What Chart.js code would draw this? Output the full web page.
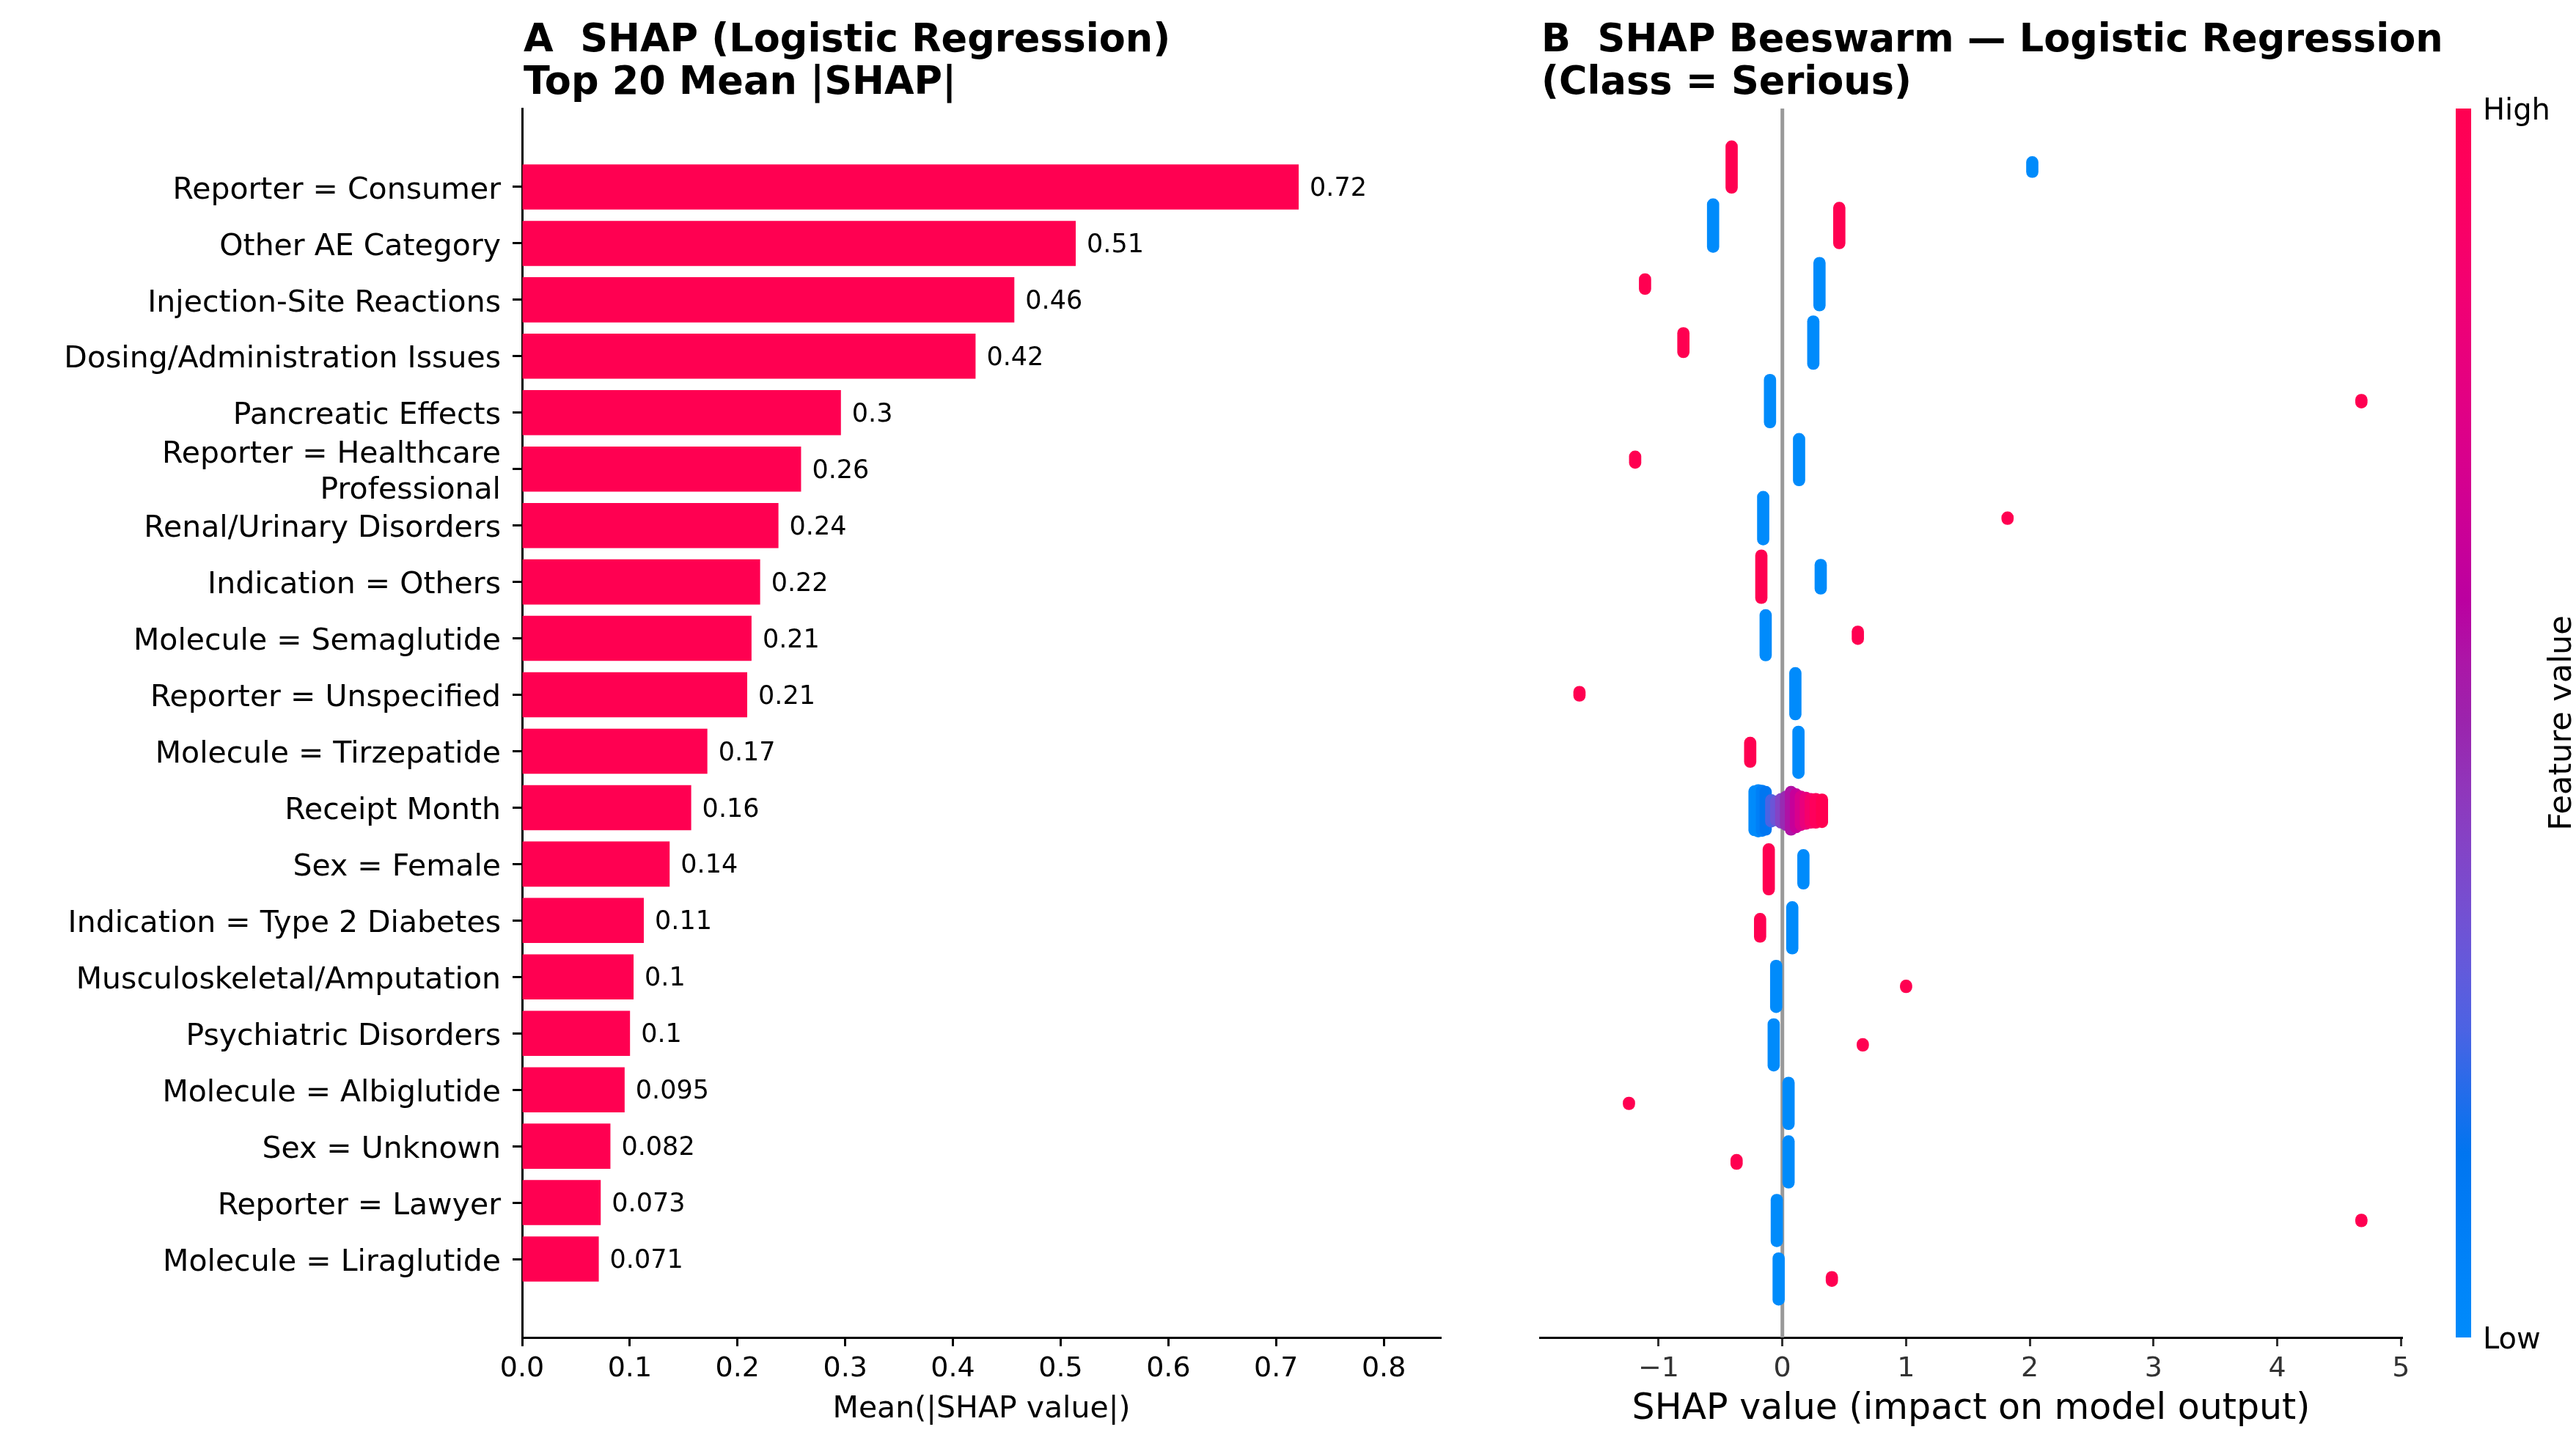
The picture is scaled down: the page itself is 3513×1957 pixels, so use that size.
<!DOCTYPE html>
<html>
<head>
<meta charset="utf-8">
<title>SHAP - Logistic Regression</title>
<script src="https://cdn.jsdelivr.net/npm/chart.js@4.4.1/dist/chart.umd.min.js"></script>
<style>
  html, body { margin: 0; padding: 0; background: #fff; }
  body { width: 3513px; height: 1957px; position: relative; overflow: hidden; }
  #barChart { position: absolute; left: 0; top: 0; }
  #swarmChart { position: absolute; left: 2000px; top: 0; }
</style>
</head>
<body>
<canvas id="barChart" width="2000" height="1957"></canvas>
<canvas id="swarmChart" width="1513" height="1957"></canvas>
<script>
// features, top to bottom (same order in both panels)
const features = [
  "Reporter = Consumer", "Other AE Category", "Injection-Site Reactions",
  "Dosing/Administration Issues", "Pancreatic Effects", "Reporter = Healthcare Professional",
  "Renal/Urinary Disorders", "Indication = Others", "Molecule = Semaglutide",
  "Reporter = Unspecified", "Molecule = Tirzepatide", "Receipt Month", "Sex = Female",
  "Indication = Type 2 Diabetes", "Musculoskeletal/Amputation", "Psychiatric Disorders",
  "Molecule = Albiglutide", "Sex = Unknown", "Reporter = Lawyer", "Molecule = Liraglutide"
];
const meanAbsShap = [0.721, 0.514, 0.457, 0.421, 0.296, 0.259, 0.238, 0.221, 0.213, 0.209,
  0.172, 0.157, 0.137, 0.113, 0.1035, 0.1002, 0.0952, 0.082, 0.073, 0.0712];

const meanTicks = [0, 0.1, 0.2, 0.3, 0.4, 0.5, 0.6, 0.7, 0.8];
const shapTicks = [-1, 0, 1, 2, 3, 4, 5];

// beeswarm clusters per row: SHAP value, feature value (0 low .. 1 high), half height in rows
const swarmShap = [
  [-0.41, 2.02], [-0.56, 0.46], [-1.11, 0.30], [-0.80, 0.25], [-0.10, 4.68],
  [-1.19, 0.135], [-0.155, 1.82], [-0.17, 0.31], [-0.135, 0.61], [-1.64, 0.105],
  [-0.26, 0.13],
  [-0.225, -0.195, -0.165, -0.135, -0.09, -0.05, -0.01, 0.03, 0.07, 0.11, 0.15, 0.19, 0.23, 0.27, 0.32],
  [-0.11, 0.17], [-0.18, 0.08], [-0.05, 1.00], [-0.07, 0.65], [-1.24, 0.05],
  [-0.37, 0.05], [-0.045, 4.68], [-0.03, 0.40]
];
const swarmFeature = [
  [1, 0], [0, 1], [1, 0], [1, 0], [0, 1],
  [1, 0], [0, 1], [1, 0], [0, 1], [1, 0],
  [1, 0],
  [0, 0, 0.08, 0.14, 0.25, 0.32, 0.4, 0.48, 0.56, 0.64, 0.72, 0.8, 0.88, 0.95, 1],
  [1, 0], [1, 0], [0, 1], [0, 1], [1, 0],
  [1, 0], [0, 1], [0, 1]
];
const swarmSpread = [
  [0.45, 0.18], [0.46, 0.40], [0.18, 0.46], [0.26, 0.46], [0.46, 0.12],
  [0.15, 0.45], [0.46, 0.11], [0.46, 0.30], [0.44, 0.16], [0.13, 0.45],
  [0.26, 0.45],
  [0.43, 0.45, 0.44, 0.42, 0.28, 0.26, 0.30, 0.34, 0.42, 0.38, 0.34, 0.32, 0.30, 0.30, 0.29],
  [0.44, 0.34], [0.25, 0.45], [0.45, 0.11], [0.45, 0.11], [0.11, 0.45],
  [0.13, 0.45], [0.45, 0.11], [0.45, 0.13]
];

const FONT = "'DejaVu Sans', sans-serif";
Chart.defaults.font.family = FONT;
Chart.defaults.color = "#000";

// shap red_blue colormap (LCH interpolation, blue -> dark purple -> red)
function redBlue(v) {
  const l = v < 0.5 ? 54 - 28 * v : 40 + 28 * (v - 0.5);
  const c = 70 + 20 * v;
  const h = 4.6588 + (0.35470565 + 2 * Math.PI - 4.6588) * v;
  const a = c * Math.cos(h), b = c * Math.sin(h);
  const fy = (l + 16) / 116, fx = fy + a / 500, fz = fy - b / 200;
  const finv = t => (t > 0.2068966 ? t * t * t : (t - 16 / 116) / 7.787);
  const X = 0.95047 * finv(fx), Y = finv(fy), Z = 1.08883 * finv(fz);
  const lin = [
    3.2406 * X - 1.5372 * Y - 0.4986 * Z,
    -0.9689 * X + 1.8758 * Y + 0.0415 * Z,
    0.0557 * X - 0.2040 * Y + 1.0570 * Z
  ];
  const rgb = lin.map(u => {
    u = Math.max(0, Math.min(1, u));
    u = u > 0.0031308 ? 1.055 * Math.pow(u, 1 / 2.4) - 0.055 : 12.92 * u;
    return Math.round(u * 255);
  });
  return "rgb(" + rgb.join(",") + ")";
}

// long labels were wrapped at about 30 characters
function wrapLabel(name) {
  if (name.length <= 30) return name;
  const cut = name.lastIndexOf(" ", 30);
  return [name.slice(0, cut), name.slice(cut + 1)];
}

const panelTitle = {
  id: "panelTitle",
  afterDraw(chart, args, opts) {
    const ctx = chart.ctx;
    ctx.save();
    ctx.font = "bold 52.5px " + FONT;
    ctx.fillStyle = "#000";
    ctx.textAlign = "left";
    ctx.textBaseline = "alphabetic";
    opts.lines.forEach((line, i) => ctx.fillText(line, chart.chartArea.left + 2, 70 + i * 58));
    ctx.restore();
  }
};

const barValueLabels = {
  id: "barValueLabels",
  afterDatasetsDraw(chart) {
    const ctx = chart.ctx;
    ctx.save();
    ctx.font = "35px " + FONT;
    ctx.fillStyle = "#000";
    ctx.textAlign = "left";
    ctx.textBaseline = "middle";
    chart.getDatasetMeta(0).data.forEach((bar, i) => {
      ctx.fillText(String(Number(meanAbsShap[i].toPrecision(2))), bar.x + 15, bar.y + 3);
    });
    ctx.restore();
  }
};

const zeroLine = {
  id: "zeroLine",
  beforeDatasetsDraw(chart) {
    const ctx = chart.ctx;
    const x = chart.scales.x.getPixelForValue(0);
    ctx.save();
    ctx.strokeStyle = "#999999";
    ctx.lineWidth = 5;
    ctx.beginPath();
    ctx.moveTo(x, chart.chartArea.top);
    ctx.lineTo(x, chart.chartArea.bottom);
    ctx.stroke();
    ctx.restore();
  }
};

const colorBar = {
  id: "colorBar",
  afterDraw(chart) {
    const ctx = chart.ctx;
    const { top, bottom, right } = chart.chartArea;
    const left = right + 73;
    const grad = ctx.createLinearGradient(0, bottom, 0, top);
    for (let i = 0; i <= 20; i++) grad.addColorStop(i / 20, redBlue(i / 20));
    ctx.save();
    ctx.fillStyle = grad;
    ctx.fillRect(left, top, 21, bottom - top);
    ctx.fillStyle = "#000";
    ctx.font = "40px " + FONT;
    ctx.textAlign = "left";
    ctx.textBaseline = "middle";
    ctx.fillText("High", left + 37, top + 5);
    ctx.fillText("Low", left + 37, bottom + 5);
    ctx.translate(right + 219, (top + bottom) / 2);
    ctx.rotate(-Math.PI / 2);
    ctx.textAlign = "center";
    ctx.font = "43px " + FONT;
    ctx.fillText("Feature value", 0, 0);
    ctx.restore();
  }
};

// left panel: mean |SHAP| bars
new Chart(document.getElementById("barChart"), {
  type: "bar",
  data: {
    datasets: [{
      data: meanAbsShap.map((v, i) => ({ x: v, y: i })),
      backgroundColor: "#ff0051",
      borderWidth: 0,
      categoryPercentage: 1,
      barPercentage: 0.8
    }]
  },
  options: {
    responsive: false,
    animation: false,
    devicePixelRatio: 1,
    events: [],
    indexAxis: "y",
    layout: { padding: { top: 148, right: 35, left: 0, bottom: 0 } },
    plugins: {
      legend: { display: false },
      tooltip: { enabled: false },
      panelTitle: { lines: ["A  SHAP (Logistic Regression)", "Top 20 Mean |SHAP|"] }
    },
    scales: {
      x: {
        type: "linear",
        min: 0,
        max: 0.853,
        offset: false,
        afterFit: s => { s.height = 133; },
        afterBuildTicks: s => { s.ticks = meanTicks.map(v => ({ value: v })); },
        ticks: {
          callback: v => v.toFixed(1),
          font: { size: 38 },
          color: "#000",
          padding: 8,
          maxRotation: 0,
          autoSkip: false
        },
        grid: { drawOnChartArea: false, tickLength: 12, tickWidth: 3, tickColor: "#000", offset: false },
        border: { display: true, color: "#000", width: 3 },
        title: {
          display: true,
          text: "Mean(|SHAP value|)",
          font: { size: 41 },
          color: "#000",
          padding: { top: 0, bottom: 10 }
        }
      },
      y: {
        type: "linear",
        reverse: true,
        min: -1.39,
        max: 20.39,
        offset: false,
        afterFit: s => { s.width = 712; },
        afterBuildTicks: s => { s.ticks = features.map((_, i) => ({ value: i })); },
        ticks: {
          callback: v => wrapLabel(features[v]),
          font: { size: 41 },
          color: "#000",
          padding: 16,
          labelOffset: 5,
          autoSkip: false
        },
        grid: { drawOnChartArea: false, tickLength: 13, tickWidth: 3, tickColor: "#000", offset: false },
        border: { display: true, color: "#000", width: 3 }
      }
    }
  },
  plugins: [panelTitle, barValueLabels]
});

// right panel: beeswarm, each cluster of stacked dots drawn as a rounded floating bar
const swarmPoints = [];
const swarmColors = [];
swarmShap.forEach((row, r) => {
  row.forEach((v, k) => {
    swarmPoints.push({ x: v, y: [r - swarmSpread[r][k], r + swarmSpread[r][k]] });
    swarmColors.push(redBlue(swarmFeature[r][k]));
  });
});

new Chart(document.getElementById("swarmChart"), {
  type: "bar",
  data: {
    datasets: [{
      data: swarmPoints,
      backgroundColor: swarmColors,
      borderWidth: 0,
      borderSkipped: false,
      borderRadius: 8,
      barThickness: 16
    }]
  },
  options: {
    responsive: false,
    animation: false,
    devicePixelRatio: 1,
    events: [],
    layout: { padding: { top: 148, right: 237, left: 100, bottom: 0 } },
    plugins: {
      legend: { display: false },
      tooltip: { enabled: false },
      panelTitle: { lines: ["B  SHAP Beeswarm \u2014 Logistic Regression", "(Class = Serious)"] }
    },
    scales: {
      x: {
        type: "linear",
        min: -1.96,
        max: 5.01,
        offset: false,
        afterFit: s => { s.height = 133; },
        afterBuildTicks: s => { s.ticks = shapTicks.map(v => ({ value: v })); },
        ticks: {
          callback: v => (v < 0 ? "\u2212" + (-v) : String(v)),
          font: { size: 38 },
          color: "#333333",
          padding: 8,
          maxRotation: 0,
          autoSkip: false
        },
        grid: { drawOnChartArea: false, tickLength: 12, tickWidth: 3, tickColor: "#333333", offset: false },
        border: { display: true, color: "#000", width: 3 },
        title: {
          display: true,
          text: "SHAP value (impact on model output)",
          font: { size: 49 },
          color: "#000",
          padding: { top: 0, bottom: 5 }
        }
      },
      y: {
        type: "linear",
        reverse: true,
        min: -1,
        max: 20,
        offset: false,
        display: false
      }
    }
  },
  plugins: [panelTitle, zeroLine, colorBar]
});
</script>
</body>
</html>
